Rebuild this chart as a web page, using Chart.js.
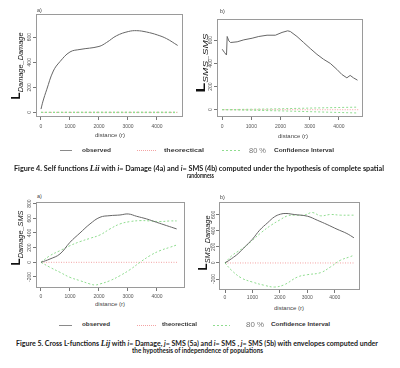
<!DOCTYPE html>
<html>
<head>
<meta charset="utf-8">
<script src="https://cdn.jsdelivr.net/npm/chart.js@4.4.0/dist/chart.umd.min.js"></script>
<style>
  html, body { margin: 0; padding: 0; background: #fff; }
  #page { position: relative; width: 400px; height: 368px; overflow: hidden; font-family: "Liberation Sans", Arial, sans-serif; }
  #page canvas { position: absolute; }
  .t { position: absolute; white-space: nowrap; line-height: 1; transform-origin: 0 50%; }
  .ylab { position: absolute; white-space: nowrap; line-height: 1; transform-origin: 50% 50%; color: #111; }
  .ylab .big { font: bold 12px "Liberation Sans", Arial, sans-serif; }
  .ylab .sub { font: italic 7.5px "Liberation Sans", Arial, sans-serif; position: relative; top: 2.5px; }
  .m { font-family: "Liberation Serif", serif; font-style: italic; font-size: 1.15em; }
  .key { position: absolute; overflow: visible; }
</style>
</head>
<body>
<div id="page">
  <canvas id="c4a"></canvas>
  <canvas id="c4b"></canvas>
  <canvas id="c5a"></canvas>
  <canvas id="c5b"></canvas>
</div>
<script>
// ---- data ----
const xTicks = [0, 1000, 2000, 3000, 4000];

// Figure 4a: L Damage_Damage
const rObs4a = [0, 70, 195, 425, 655, 1000, 1345, 2000, 2264, 2609, 3011, 3300, 3644, 4011, 4333, 4713];
const obs4a = [26, 90, 180, 330, 405, 482, 502, 526, 558, 612, 645, 652, 641, 618, 588, 534];
const rEnv4a = [0, 2000, 4700];
const hi4a = [1, 2, 2];
const lo4a = [-1, -2, -2];

// Figure 4b: L SMS_SMS
const rObs4b = [0, 80, 148, 171, 228, 285, 513, 741, 1026, 1254, 1538, 1823, 2051, 2245, 2336, 2564, 2792, 3020, 3248, 3476, 3704, 3932, 4103, 4274, 4387, 4501, 4638];
const obs4b = [522, 493, 472, 632, 594, 580, 586, 603, 617, 632, 643, 643, 667, 681, 675, 632, 580, 528, 478, 435, 400, 348, 304, 275, 296, 275, 255];
const rEnv4b = [0, 1000, 2000, 3000, 4000, 4600];
const hi4b = [0, 4, 8, 14, 19, 22];
const lo4b = [0, -5, -10, -17, -24, -28];

// Figure 5a: L Damage_SMS
const rObs5a = [0, 310, 655, 1000, 1345, 1690, 2034, 2379, 2724, 3011, 3299, 3644, 3989, 4333, 4678];
const obs5a = [0, 45, 114, 273, 400, 523, 614, 636, 645, 659, 627, 591, 545, 500, 455];
const rHi5a = [0, 310, 655, 1000, 1345, 1690, 2034, 2379, 2724, 3069, 3414, 3759, 4103, 4448, 4678];
const hi5a = [0, 91, 159, 227, 282, 327, 373, 455, 523, 555, 568, 564, 555, 564, 564];
const rLo5a = [0, 310, 655, 1000, 1345, 1690, 1862, 2034, 2379, 2724, 3069, 3414, 3759, 4103, 4448, 4678];
const lo5a = [0, -68, -136, -205, -250, -295, -309, -295, -250, -182, -100, 0, 91, 159, 205, 236];

// Figure 5b: L SMS_Damage
const rObs5b = [0, 240, 480, 721, 1000, 1261, 1562, 1802, 2018, 2222, 2523, 3003, 3363, 3724, 4084, 4444, 4700];
const obs5b = [0, 54, 117, 200, 296, 408, 504, 575, 608, 617, 604, 583, 533, 479, 421, 367, 314];
const rHi5b = [0, 240, 480, 721, 1000, 1321, 1682, 1982, 2282, 2523, 2883, 3183, 3483, 3844, 4204, 4565, 4700];
const hi5b = [0, 88, 146, 200, 283, 379, 471, 533, 588, 596, 596, 629, 588, 604, 596, 596, 596];
const rLo5b = [0, 240, 601, 1000, 1441, 1802, 2162, 2643, 3003, 3483, 3844, 4204, 4565, 4700];
const lo5b = [0, -92, -188, -238, -279, -300, -271, -175, -146, -121, -50, 33, 78, 97];

// theoretical L(r) - r = 0 under the null hypothesis
const rTheo = [0, 4700];
const theo = [0, 0];

// ---- drawing ----
const FONT = '"Liberation Sans", Arial, sans-serif';
const OBS = '#666666';
const GREEN = '#8fdc8f';
const RED = '#f3a3a3';

const pts = (xs, ys) => xs.map((x, i) => ({ x, y: ys[i] }));

const line = (data, color, dash, tension) => ({
  data,
  borderColor: color,
  borderWidth: 1,
  borderDash: dash,
  pointRadius: 0,
  fill: false,
  tension
});

const rFrame = {
  id: 'rFrame',
  afterDraw(chart, args, opts) {
    const { ctx, chartArea: a, scales } = chart;
    ctx.save();
    ctx.strokeStyle = '#9a9a9a';
    ctx.lineWidth = 1;
    ctx.strokeRect(Math.round(a.left) + 0.5, Math.round(a.top) + 0.5,
      Math.round(a.right - a.left) - 1, Math.round(a.bottom - a.top) - 1);
    ctx.fillStyle = '#555';
    ctx.font = '5px ' + FONT;
    ctx.textAlign = 'center';
    ctx.textBaseline = 'middle';
    opts.yTicks.forEach((v) => {
      ctx.save();
      ctx.translate(a.left - opts.labelOffset, scales.y.getPixelForValue(v));
      ctx.rotate(-Math.PI / 2);
      ctx.fillText(String(v), 0, 0);
      ctx.restore();
    });
    ctx.restore();
  }
};

const makePanel = (id, box, xRange, yRange, yTicks, xPad, labelOffset, datasets) => {
  const canvas = document.getElementById(id);
  const W = box.r - box.l + 15;
  const H = box.b - box.t + 16;
  canvas.width = W;
  canvas.height = H;
  canvas.style.left = (box.l - 12) + 'px';
  canvas.style.top = (box.t - 3) + 'px';

  return new Chart(canvas, {
    type: 'line',
    data: { datasets },
    plugins: [rFrame],
    options: {
      responsive: false,
      animation: false,
      devicePixelRatio: 1,
      layout: { padding: { top: 3, right: 3, left: 0, bottom: 0 } },
      plugins: {
        legend: { display: false },
        tooltip: { enabled: false },
        rFrame: { yTicks, labelOffset }
      },
      scales: {
        x: {
          type: 'linear',
          min: xRange[0],
          max: xRange[1],
          afterBuildTicks: (s) => { s.ticks = xTicks.map((value) => ({ value })); },
          afterFit: (s) => { s.height = 13; },
          border: { display: false },
          grid: { drawOnChartArea: false, drawTicks: true, tickLength: 3, tickColor: '#777' },
          ticks: {
            font: { size: 5, family: FONT },
            color: '#555',
            padding: xPad,
            maxRotation: 0,
            minRotation: 0,
            autoSkip: false,
            callback: (v) => String(v)
          }
        },
        y: {
          type: 'linear',
          min: yRange[0],
          max: yRange[1],
          afterBuildTicks: (s) => { s.ticks = yTicks.map((value) => ({ value })); },
          afterFit: (s) => { s.width = 12; },
          border: { display: false },
          grid: { drawOnChartArea: false, drawTicks: true, tickLength: 3, tickColor: '#777' },
          ticks: { display: false }
        }
      }
    }
  });
};

makePanel('c4a', { l: 36, t: 14, r: 183, b: 117 }, [-172, 4897], [-37, 785], [0, 200, 400, 600], 3.5, 6.5, [
  line(pts(rObs4a, obs4a), OBS, [], 0.4),
  line(pts(rEnv4a, hi4a), GREEN, [2, 2], 0),
  line(pts(rEnv4a, lo4a), GREEN, [2, 2], 0),
  line(pts(rTheo, theo), RED, [1, 1.5], 0)
]);

makePanel('c4b', { l: 217, t: 19, r: 363, b: 117 }, [-178, 4827], [-63, 783], [0, 200, 400, 600], 3.5, 6.5, [
  line(pts(rObs4b, obs4b), OBS, [], 0),
  line(pts(rEnv4b, hi4b), GREEN, [2, 2], 0),
  line(pts(rEnv4b, lo4b), GREEN, [2, 2], 0),
  line(pts(rTheo, theo), RED, [1, 1.5], 0)
]);

makePanel('c5a', { l: 36, t: 202, r: 185, b: 288 }, [-172, 4966], [-350, 822], [-200, 0, 200, 400, 600, 800], 2.5, 6.5, [
  line(pts(rObs5a, obs5a), OBS, [], 0.4),
  line(pts(rHi5a, hi5a), GREEN, [2, 2], 0.4),
  line(pts(rLo5a, lo5a), GREEN, [2, 2], 0.4),
  line(pts(rTheo, theo), RED, [1, 1.5], 0)
]);

makePanel('c5b', { l: 219, t: 202, r: 360, b: 290 }, [-219, 4922], [-337, 760], [-200, 0, 200, 400, 600], 2, 5, [
  line(pts(rObs5b, obs5b), OBS, [], 0.4),
  line(pts(rHi5b, hi5b), GREEN, [2, 2], 0.4),
  line(pts(rLo5b, lo5b), GREEN, [2, 2], 0.4),
  line(pts(rTheo, theo), RED, [1, 1.5], 0)
]);

// ---- text and legends ----
const page = document.getElementById('page');

const addText = (html, { x, y, w, align = 'left', size = 6, weight = 'normal', color = '#333', family = FONT }) => {
  const el = document.createElement('div');
  el.className = 't';
  el.innerHTML = html;
  Object.assign(el.style, { fontSize: size + 'px', fontWeight: weight, color, fontFamily: family });
  page.appendChild(el);
  const rect = el.getBoundingClientRect();
  const k = w ? w / rect.width : 1;
  const left = align === 'center' ? x - (rect.width * k) / 2 : x;
  el.style.left = left + 'px';
  el.style.top = (y - rect.height / 2) + 'px';
  el.style.transform = `scaleX(${k})`;
};

const addYLabel = (sub, { cx, cy, len }) => {
  const el = document.createElement('div');
  el.className = 'ylab';
  el.innerHTML = `<span class="big">L</span><span class="sub">${sub}</span>`;
  page.appendChild(el);
  const k = len / el.getBoundingClientRect().width;
  el.style.left = cx + 'px';
  el.style.top = cy + 'px';
  el.style.transform = `translate(-50%, -50%) rotate(-90deg) scaleX(${k})`;
};

const SVGNS = 'http://www.w3.org/2000/svg';
const addKey = (x1, x2, y, color, dash) => {
  const svg = document.createElementNS(SVGNS, 'svg');
  svg.setAttribute('class', 'key');
  svg.setAttribute('width', x2 - x1);
  svg.setAttribute('height', 3);
  svg.style.left = x1 + 'px';
  svg.style.top = (y - 1.5) + 'px';
  const ln = document.createElementNS(SVGNS, 'line');
  ln.setAttribute('x1', 0);
  ln.setAttribute('x2', x2 - x1);
  ln.setAttribute('y1', 1.5);
  ln.setAttribute('y2', 1.5);
  ln.setAttribute('stroke', color);
  ln.setAttribute('stroke-width', 1);
  if (dash) ln.setAttribute('stroke-dasharray', dash);
  svg.appendChild(ln);
  page.appendChild(svg);
};

const addLegend = (y, pos) => {
  addKey(pos.obsLine[0], pos.obsLine[1], y, '#8a8a8a', null);
  addText('observed', { x: pos.obs[0], w: pos.obs[1], y, size: 5.5, weight: 'bold', color: '#333' });
  addKey(pos.theoLine[0], pos.theoLine[1], y, RED, '1 1');
  addText('theorectical', { x: pos.theo[0], w: pos.theo[1], y, size: 5.5, weight: 'bold', color: '#333' });
  addKey(pos.ciLine[0], pos.ciLine[1], y, GREEN, '2 2');
  addText('80 %', { x: pos.pct[0], w: pos.pct[1], y, size: 8, color: '#777' });
  addText('Confidence Interval', { x: pos.ci[0], w: pos.ci[1], y, size: 5.5, weight: 'bold', color: '#333' });
};

// panel tags
addText('a)', { x: 37, y: 10.5, size: 5.5, color: '#444' });
addText('b)', { x: 220, y: 12, size: 5.5, color: '#444' });
addText('a)', { x: 37, y: 196.5, size: 5.5, color: '#444' });
addText('b)', { x: 220, y: 198, size: 5.5, color: '#444' });

// x-axis titles
addText('distance (r)', { x: 110, y: 136, w: 30, align: 'center', size: 5.5, color: '#444' });
addText('distance (r)', { x: 293, y: 136.5, w: 30, align: 'center', size: 5.5, color: '#444' });
addText('distance (r)', { x: 110, y: 305, w: 30, align: 'center', size: 5.5, color: '#444' });
addText('distance (r)', { x: 289, y: 309, w: 30, align: 'center', size: 5.5, color: '#444' });

// y-axis titles
addYLabel('Damage_Damage', { cx: 15, cy: 66, len: 67 });
addYLabel('SMS_SMS', { cx: 200, cy: 62.5, len: 59 });
addYLabel('Damage_SMS', { cx: 15, cy: 238, len: 55 });
addYLabel('SMS_Damage', { cx: 202, cy: 243, len: 55 });

// legends
addLegend(150.5, {
  obsLine: [60, 72], obs: [82, 29],
  theoLine: [137, 157], theo: [164, 40],
  ciLine: [222, 240], pct: [249, 17], ci: [274, 60]
});
addLegend(325, {
  obsLine: [59, 72], obs: [82, 28],
  theoLine: [137, 156], theo: [162, 35],
  ciLine: [213, 230], pct: [246, 18], ci: [271, 59]
});

// captions
const CAP = 'Lato, "Open Sans", sans-serif';
addText('Figure 4. Self functions <span class="m">Lii</span> with <i>i</i>= Damage (4a) and <i>i</i>= SMS (4b) computed under the hypothesis of complete spatial',
  { x: 14, y: 168, w: 370, size: 7.5, weight: 'bold', color: '#1a1a1a', family: CAP });
addText('randomness', { x: 200, y: 175.5, w: 27, align: 'center', size: 7.5, weight: 'bold', color: '#1a1a1a', family: CAP });
addText('Figure 5. Cross L-functions <span class="m">Lij</span> with <i>i</i>= Damage, <i>j</i>= SMS (5a) and <i>i</i>= SMS , <i>j</i>= SMS (5b) with envelopes computed under',
  { x: 16, y: 343.5, w: 362, size: 7.5, weight: 'bold', color: '#1a1a1a', family: CAP });
addText('the hypothesis of independence of populations', { x: 132, y: 350.5, w: 131, size: 7.5, weight: 'bold', color: '#1a1a1a', family: CAP });
</script>
</body>
</html>
